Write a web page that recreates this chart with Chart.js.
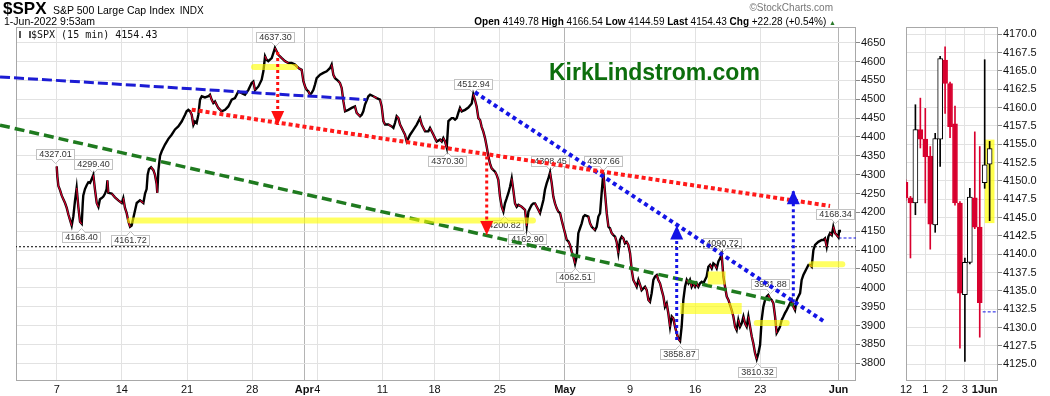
<!DOCTYPE html>
<html><head><meta charset="utf-8">
<script src="https://cdn.jsdelivr.net/npm/chart.js@4.4.1/dist/chart.umd.min.js"></script>
<style>
html,body{margin:0;padding:0;background:#fff;}
#wrap{position:relative;width:1050px;height:396px;overflow:hidden;font-family:'Liberation Sans',Arial,sans-serif;}
#main{position:absolute;left:0;top:0;}
#side{position:absolute;left:900px;top:0;}
.t{position:absolute;white-space:nowrap;color:#000;}
</style></head><body>
<div id="wrap">
<canvas id="main" width="900" height="396"></canvas>
<canvas id="side" width="150" height="396"></canvas>
<div class="t" style="left:3px;top:-1px;font-size:17px;font-weight:bold;line-height:19px;">$SPX</div>
<div class="t" style="left:53px;top:4px;font-size:10.5px;line-height:13px;">S&amp;P 500 Large Cap Index <span style="font-size:10px;margin-left:2px;">INDX</span></div>
<div class="t" style="left:4px;top:15px;font-size:10.5px;line-height:13px;">1-Jun-2022 9:53am</div>
<div class="t" style="right:217px;top:2px;font-size:10px;line-height:12px;color:#777;">©StockCharts.com</div>
<div class="t" style="right:214px;top:15px;font-size:10px;line-height:13px;"><b>Open</b> 4149.78 <b>High</b> 4166.54 <b>Low</b> 4144.59 <b>Last</b> 4154.43 <b>Chg</b> +22.28 (+0.54%) <span style="color:#2a7a2a;font-size:7px;">▲</span></div>
<div class="t" style="left:31px;top:29px;font-size:10px;line-height:12px;font-family:'DejaVu Sans Mono',monospace;color:#111;">$SPX (15 min) 4154.43</div>
<div class="t" style="left:19px;top:31px;width:8px;height:7px;border-left:2px solid #555;border-right:2px solid #555;"></div>
<div class="t" style="left:549px;top:59px;font-size:23px;line-height:26px;font-weight:bold;color:#0c6e0c;">KirkLindstrom.com</div>
</div>
<script>
// ---------- main chart data (x = trading day index, 0 = 7-Mar-2022 open) ----------
const xTickVals   = [0, 5, 10, 15, 19, 20, 25, 29, 34, 39, 44, 49, 54, 60];
const xTickLabels = ['7','14','21','28','Apr','4','11','18','25','May','9','16','23','Jun'];
const monthTicks  = [19, 39, 60];
const yTickVals   = [3800,3850,3900,3950,4000,4050,4100,4150,4200,4250,4300,4350,4400,4450,4500,4550,4600,4650];

const priceX = [0.00,0.05,0.13,0.25,0.38,0.51,0.64,0.77,0.89,1.02,1.15,1.28,1.40,1.53,1.66,1.79,1.92,2.00,2.04,2.17,2.30,2.43,2.56,2.68,2.81,2.94,3.07,3.20,3.32,3.45,3.58,3.71,3.83,3.89,3.96,4.22,4.47,4.73,4.99,5.11,5.24,5.37,5.50,5.63,5.75,5.88,6.01,6.14,6.39,6.65,6.78,6.90,6.98,7.08,7.24,7.42,7.54,7.67,7.72,7.80,7.93,8.06,8.31,8.57,8.82,9.08,9.33,9.59,9.85,9.97,10.10,10.23,10.36,10.49,10.61,10.74,10.87,11.00,11.13,11.38,11.64,11.76,11.89,12.02,12.15,12.28,12.40,12.66,12.92,13.17,13.43,13.68,13.94,14.20,14.45,14.71,14.96,15.09,
15.22,15.48,15.73,15.86,15.99,16.11,16.24,16.37,16.50,16.63,16.75,17.01,17.27,17.52,17.78,18.03,18.29,18.55,18.80,18.93,19.06,19.18,19.31,19.44,19.57,19.70,19.82,19.95,20.21,20.46,20.72,20.98,21.10,21.23,21.36,21.49,21.62,21.74,21.87,22.00,22.13,22.38,22.64,22.89,23.02,23.28,23.41,23.53,23.66,23.92,24.05,24.30,24.56,24.81,24.94,25.07,25.20,25.45,25.71,25.84,25.96,26.09,26.22,26.35,26.48,26.60,26.73,26.86,26.99,27.12,27.37,27.63,27.88,28.01,28.14,28.27,28.52,28.65,28.91,29.03,29.16,29.42,29.55,29.67,29.80,29.93,30.06,30.18,30.31,30.44,30.57,30.70,30.82,30.95,31.08,31.34,31.59,
31.85,31.97,32.10,32.23,32.36,32.49,32.61,32.74,32.87,33.00,33.13,33.25,33.38,33.51,33.64,33.77,33.89,34.02,34.15,34.28,34.40,34.53,34.66,34.79,34.92,35.04,35.17,35.30,35.43,35.68,35.94,36.07,36.20,36.32,36.45,36.58,36.71,36.84,36.96,37.09,37.22,37.35,37.47,37.60,37.73,37.86,37.99,38.11,38.24,38.37,38.50,38.63,38.75,38.88,39.01,39.14,39.27,39.39,39.52,39.65,39.78,39.91,40.03,40.16,40.29,40.42,40.54,40.80,40.93,41.06,41.18,41.31,41.44,41.57,41.70,41.82,41.95,42.08,42.21,42.34,42.46,42.59,42.72,42.85,42.97,43.10,43.23,43.36,43.49,43.61,43.74,43.87,44.00,44.13,44.25,44.38,44.51,44.64,44.77,44.89,45.15,45.28,45.41,45.53,45.66,45.79,45.92,46.05,46.17,46.30,46.43,46.56,46.68,46.81,46.94,47.07,47.20,47.32,47.45,47.58,47.71,
47.84,47.96,48.09,48.22,48.35,48.48,48.60,48.73,48.86,48.99,49.11,49.24,49.37,49.50,49.63,49.75,49.88,50.01,50.14,50.27,50.39,50.52,50.65,50.78,50.91,51.03,51.16,51.29,51.42,51.55,51.67,51.80,51.93,52.06,52.18,52.31,52.44,52.57,52.70,52.82,52.95,53.08,53.21,53.34,53.46,53.59,53.72,53.85,53.98,54.10,54.23,54.36,54.49,54.61,54.74,54.87,55.00,55.13,55.25,55.38,55.51,55.64,55.77,55.89,56.02,56.15,56.28,56.41,56.53,56.66,56.79,56.92,57.05,57.17,57.30,57.43,57.56,57.69,57.81,57.94,58.07,58.20,58.32,58.45,58.71,58.84,58.96,59.09,59.22,59.35,59.48,59.60,59.73,59.86,59.99,60.04,60.10];
const priceY = [4322,4295,4270,4260,4245,4235,4225,4212,4195,4180,4165,4190,4230,4265,4215,4175,4170,4225,4245,4262,4272,4280,4278,4288,4299,4260,4225,4215,4235,4238,4242,4250,4262,4285,4252,4250,4240,4232,4225,4238,4212,4198,4176,4162,4165,4185,4205,4225,4232,4225,4250,4262,4300,4315,4320,4312,4300,4275,4252,4310,4350,4362,4380,4395,4406,4420,4428,4441,4459,4468,4472,4468,4459,4432,4441,4437,4459,4499,4508,4505,4508,4512,4499,4490,4494,4485,4477,4468,4472,4481,4499,4503,4521,4516,4512,4525,4543,4547,
4524,4534,4552,4574,4614,4605,4601,4605,4609,4623,4636,4618,4609,4601,4596,4596,4592,4583,4578,4548,4534,4525,4521,4512,4517,4525,4539,4556,4565,4570,4574,4583,4592,4565,4556,4552,4548,4543,4530,4495,4468,4472,4477,4481,4464,4455,4459,4468,4486,4508,4512,4508,4503,4499,4481,4442,4433,4433,4428,4424,4437,4455,4450,4433,4424,4415,4406,4388,4397,4406,4419,4433,4450,4433,4424,4415,4415,4424,4406,4397,4388,4393,4388,4397,4388,4372,4442,4446,4450,4450,4446,4450,4464,4477,4468,4472,4478,
4489,4513,4498,4480,4450,4445,4427,4414,4397,4374,4348,4330,4317,4312,4308,4299,4286,4242,4215,4202,4224,4237,4251,4268,4290,4260,4224,4215,4220,4215,4207,4164,4202,4211,4220,4224,4224,4215,4207,4198,4215,4233,4260,4277,4290,4306,4277,4242,4224,4211,4202,4198,4180,4162,4145,4127,4123,4114,4096,4083,4064,4083,4145,4158,4171,4189,4193,4189,4171,4162,4158,4153,4162,4189,4198,4251,4306,4251,4198,4162,4158,4145,4140,4136,4122,4092,4127,4136,4131,4118,4122,4114,4092,4047,4021,4012,4003,4021,4008,3994,4003,3994,3968,3963,3986,4021,4030,4034,4021,4012,3994,3977,3950,3959,3932,3897,3924,3919,3897,3880,3865,
3859,3897,3968,4003,4021,4012,4021,4003,4012,4003,4012,4003,4012,4016,4012,4021,4030,4056,4061,4052,4065,4061,4052,4070,4078,4089,4030,4003,3977,3968,3955,3941,3924,3897,3888,3915,3897,3906,3924,3906,3897,3924,3897,3871,3853,3827,3811,3827,3849,3915,3950,3968,3977,3981,3972,3968,3959,3924,3880,3888,3897,3915,3924,3933,3941,3950,3959,3968,3950,3941,3968,3977,3986,4021,4034,4043,4052,4061,4061,4056,4100,4114,4118,4122,4127,4127,4131,4109,4136,4145,4140,4162,4145,4140,4134,4150,4154];

// trend lines [x, price]
const blueDashLine  = [[-4.35, 4559.3], [23.79, 4498.9]];
const greenDashLine = [[-4.35, 4431.5], [56.53, 3954.6]];
const redDotLine    = [[10.36, 4472.4], [59.35, 4217.1]];
const blueDotLine   = [[32.10, 4518.5], [58.83, 3912.2]];
const refLevel      = 4109;
const prevClose     = 4132.15;

// yellow highlights [x0, x1, price]
const hlBars  = [[15.14, 18.29, 4585.6], [5.63, 36.55, 4178.6], [53.72, 56.02, 3906.9], [57.94, 60.29, 4062.8]];
const hlBoxes = [[49.96, 51.34, 4026.2], [47.84, 52.57, 3945.3]];

// arrows
const arrowX    = [16.96, 33.00, 47.58, 56.53];
const arrowFrom = [4625, 4348, 3862, 3962];
const arrowTo   = [4432, 4140, 4165, 4259];

// value labels
const labelX   = [-0.12, 2.81, 1.85, 5.64, 16.78, 29.93, 31.97, 34.33, 36.07, 37.86, 39.78, 41.90, 47.78, 51.03, 53.72, 54.74, 59.73];
const labelY   = [4327.01, 4299.40, 4168.40, 4161.72, 4637.30, 4370.30, 4512.94, 4200.82, 4162.90, 4308.45, 4062.51, 4307.66, 3858.87, 4090.72, 3810.32, 3981.88, 4168.34];
const labelPos = ['a','a','b','b','a','b','a','b','b','a','b','a','b','a','b','a','a'];

// ---------- side chart (15-min candles, 31-May 12:00 .. 1-Jun 9:45) ----------
const sideSlot  = [0,1,2,3,4,5,6,7,8,9,10,11,12,13,14,15,16,17];
const sideOpen  = [4149.8,4147.7,4147.0,4157.0,4155.7,4153.4,4144.0,4155.7,4166.5,4163.3,4157.8,4147.0,4134.5,4138.9,4147.7,4143.7,4149.78,4152.3];
const sideHigh  = [4150.2,4147.9,4160.4,4161.3,4159.9,4154.7,4156.5,4167.0,4168.3,4163.5,4160.2,4147.2,4139.5,4149.0,4156.7,4154.7,4166.54,4155.4];
const sideLow   = [4147.3,4139.5,4145.4,4154.5,4147.0,4140.7,4143.0,4152.0,4159.2,4155.9,4146.7,4127.2,4125.4,4138.7,4143.5,4128.7,4149.0,4144.59];
const sideClose = [4147.7,4147.0,4157.0,4155.7,4153.3,4144.1,4155.8,4166.7,4163.3,4157.4,4147.0,4134.7,4138.9,4147.8,4143.7,4133.4,4152.2,4154.43];
const sideTickVals   = [0.1, 4, 8, 12, 16];
const sideTickLabels = ['12','1','2','3','1Jun'];
const sideYTicks = [4125,4127.5,4130,4132.5,4135,4137.5,4140,4142.5,4145,4147.5,4150,4152.5,4155,4157.5,4160,4162.5,4165,4167.5,4170];
const sideHighlightSlot = 17;
const sideHighlightRange = [4144.3, 4155.6];

// ---------- styles ----------
const RED = '#d8002e';
const AXIS_FONT = "'Liberation Sans Narrow','Liberation Sans',Arial,sans-serif";
const pts = arr => arr.map(p => ({x: p[0], y: p[1]}));
const noPadX = s => { s.paddingLeft = 0; s.paddingRight = 0; };
const noPadY = s => { s.paddingTop = 0; s.paddingBottom = 0; };

const frame = {
  id: 'frame',
  beforeDatasetsDraw(chart) {
    const {ctx, chartArea: a} = chart;
    ctx.save(); ctx.strokeStyle = '#a8a8a8'; ctx.lineWidth = 1;
    ctx.strokeRect(a.left + 0.5, a.top + 0.5, a.right - a.left - 1, a.bottom - a.top);
    ctx.restore();
  }
};

const valueLabels = {
  id: 'valueLabels',
  beforeDatasetsDraw(chart) {
    const {ctx, scales: {x, y}} = chart;
    ctx.save();
    ctx.font = "9px 'Liberation Sans',Arial,sans-serif";
    ctx.lineWidth = 1;
    labelX.forEach((lx, i) => {
      const text = labelY[i].toFixed(2);
      const px = x.getPixelForValue(lx), py = y.getPixelForValue(labelY[i]);
      const above = labelPos[i] === 'a';
      const w = Math.round(ctx.measureText(text).width + 5), h = 10;
      const left = Math.round(px - w / 2) + 0.5;
      const top = (above ? Math.round(py - 5.5 - h) : Math.round(py + 8)) + 0.5;
      ctx.fillStyle = '#fff'; ctx.fillRect(left, top, w, h);
      ctx.strokeStyle = '#c2c2c2'; ctx.strokeRect(left, top, w, h);
      const edge = above ? top + h : top, d = above ? 1 : -1, cx = Math.round(px) + 0.5;
      ctx.fillStyle = '#fff';
      ctx.beginPath(); ctx.moveTo(cx - 4, edge - d); ctx.lineTo(cx, edge + d * 4); ctx.lineTo(cx + 4, edge - d); ctx.closePath(); ctx.fill();
      ctx.beginPath(); ctx.moveTo(cx - 4, edge); ctx.lineTo(cx, edge + d * 4); ctx.lineTo(cx + 4, edge); ctx.stroke();
      ctx.fillStyle = '#333'; ctx.textAlign = 'center'; ctx.textBaseline = 'middle';
      ctx.fillText(text, left + w / 2, top + h / 2 + 0.5);
    });
    ctx.restore();
  }
};

const arrowHeads = {
  id: 'arrowHeads',
  afterDatasetsDraw(chart) {
    const {ctx, scales: {x, y}} = chart;
    ctx.save();
    arrowX.forEach((ax, i) => {
      const px = x.getPixelForValue(ax), tip = y.getPixelForValue(arrowTo[i]), from = y.getPixelForValue(arrowFrom[i]);
      const d = tip < from ? 1 : -1;
      ctx.fillStyle = i < 2 ? '#ff1010' : '#1414e6';
      ctx.beginPath(); ctx.moveTo(px, tip); ctx.lineTo(px - 6.5, tip + d * 14); ctx.lineTo(px + 6.5, tip + d * 14); ctx.closePath(); ctx.fill();
    });
    ctx.restore();
  }
};

const priceData = priceX.map((px, i) => ({x: px, y: priceY[i]}));
const datasets = [];
arrowX.forEach((ax, i) => datasets.push({
  data: [{x: ax, y: arrowFrom[i]}, {x: ax, y: arrowTo[i]}],
  borderColor: i < 2 ? '#ff1010' : '#1414e6', borderWidth: 3, borderDash: [3, 3], pointRadius: 0, order: 1
}));
hlBars.forEach(b => datasets.push({
  data: [{x: b[0], y: b[2]}, {x: b[1], y: b[2]}],
  borderColor: 'rgba(255,255,0,0.62)', borderWidth: 6, borderCapStyle: 'round', pointRadius: 0, order: 2
}));
hlBoxes.forEach((b, i) => datasets.push({
  data: [{x: b[0], y: b[2]}, {x: b[1], y: b[2]}],
  borderColor: 'rgba(255,255,0,0.62)', borderWidth: i === 0 ? 13 : 11, borderCapStyle: 'butt', pointRadius: 0, order: 2
}));
datasets.push({data: pts(blueDashLine), borderColor: '#1c1cd4', borderWidth: 3, borderDash: [10, 4], pointRadius: 0, clip: false, order: 3});
datasets.push({data: pts(greenDashLine), borderColor: '#1f7a1f', borderWidth: 3.5, borderDash: [10, 5], pointRadius: 0, clip: false, order: 3});
datasets.push({data: pts(redDotLine), borderColor: '#ff1a1a', borderWidth: 4, borderDash: [4, 3], pointRadius: 0, clip: false, order: 3});
datasets.push({data: pts(blueDotLine), borderColor: '#1414e6', borderWidth: 4, borderDash: [4, 3.5], pointRadius: 0, clip: false, order: 3});
// red accent on falling segments (drawn over the black price line)
datasets.push({
  data: priceData, borderWidth: 1.2, pointRadius: 0, tension: 0, order: 3.5,
  borderColor: 'rgba(0,0,0,0)',
  segment: {borderColor: c => c.p1.parsed.y < c.p0.parsed.y - 4 ? RED : 'rgba(0,0,0,0)'}
});
datasets.push({data: priceData, borderColor: '#000', borderWidth: 2.4, pointRadius: 0, tension: 0, order: 4});
datasets.push({data: [{x: -3.2, y: refLevel}, {x: 61.5, y: refLevel}], borderColor: '#000', borderWidth: 1, borderDash: [2, 2], pointRadius: 0, order: 5});
datasets.push({data: [{x: 60, y: prevClose}, {x: 61.5, y: prevClose}], borderColor: '#1414e6', borderWidth: 1, borderDash: [3, 2], pointRadius: 0, order: 5});

new Chart(document.getElementById('main'), {
  type: 'line',
  data: {datasets},
  options: {
    responsive: false, animation: false,
    layout: {padding: {left: 16, top: 27, right: 0, bottom: 0}},
    plugins: {legend: {display: false}, tooltip: {enabled: false}},
    scales: {
      x: {
        type: 'linear', min: -3.124, max: 61.34,
        afterBuildTicks: s => { s.ticks = xTickVals.map(v => ({value: v})); },
        afterFit: s => { s.height = 16; noPadX(s); },
        ticks: {
          autoSkip: false, maxRotation: 0, padding: 3, color: '#111',
          callback: v => xTickLabels[xTickVals.indexOf(v)],
          font: c => ({family: AXIS_FONT, size: 11, weight: (c.tick && monthTicks.includes(c.tick.value)) ? 'bold' : 'normal'})
        },
        grid: {drawTicks: false, color: c => (c.tick && monthTicks.includes(c.tick.value)) ? '#b4b4b4' : '#e2e2e2'},
        border: {display: false}
      },
      y: {
        type: 'linear', position: 'right', min: 3755.7, max: 4691.6,
        afterBuildTicks: s => { s.ticks = yTickVals.map(v => ({value: v})); },
        afterFit: s => { s.width = 44; noPadY(s); },
        ticks: {padding: 1, color: '#111', font: {family: AXIS_FONT, size: 11}, callback: v => String(v)},
        grid: {color: '#e2e2e2', drawTicks: true, tickLength: 4, tickColor: '#888'},
        border: {display: false}
      }
    }
  },
  plugins: [frame, valueLabels, arrowHeads]
});

// ---------- side chart ----------
const bodies = sideSlot.map((s, i) => ({x: s, y: [sideOpen[i], sideClose[i]]}));
const wicks  = sideSlot.map((s, i) => ({x: s, y: [sideLow[i], sideHigh[i]]}));
const isUp = i => sideClose[i] >= sideOpen[i];

new Chart(document.getElementById('side'), {
  type: 'bar',
  data: {datasets: [
    {type: 'bar', data: bodies, grouped: false, barThickness: 5, borderWidth: 1, borderSkipped: false,
     backgroundColor: sideSlot.map((s, i) => isUp(i) ? '#fff' : RED),
     borderColor: sideSlot.map((s, i) => isUp(i) ? '#000' : RED), order: 0},
    {type: 'bar', data: wicks, grouped: false, barThickness: 1,
     backgroundColor: sideSlot.map((s, i) => isUp(i) ? '#000' : RED), order: 1},
    {type: 'bar', data: [{x: sideHighlightSlot, y: sideHighlightRange}], grouped: false, barThickness: 9,
     backgroundColor: 'rgba(255,255,0,0.7)', order: 2},
    {type: 'line', data: [{x: 15.6, y: prevClose}, {x: 18.8, y: prevClose}], borderColor: '#1414e6', borderWidth: 1, borderDash: [3, 2], pointRadius: 0, order: 3}
  ]},
  options: {
    responsive: false, animation: false,
    layout: {padding: {left: 6, top: 27, right: 0, bottom: 0}},
    plugins: {legend: {display: false}, tooltip: {enabled: false}},
    scales: {
      x: {
        type: 'linear', min: 0.1, max: 18.69, offset: false,
        afterBuildTicks: s => { s.ticks = sideTickVals.map(v => ({value: v})); },
        afterFit: s => { s.height = 16; noPadX(s); },
        ticks: {autoSkip: false, maxRotation: 0, padding: 3, color: '#111',
          callback: v => sideTickLabels[sideTickVals.indexOf(v)],
          font: c => ({family: AXIS_FONT, size: 11, weight: (c.tick && c.tick.value === 16) ? 'bold' : 'normal'})},
        grid: {drawTicks: false, offset: false, color: '#e2e2e2'},
        border: {display: false}
      },
      y: {
        type: 'linear', position: 'right', min: 4122.86, max: 4171.0,
        afterBuildTicks: s => { s.ticks = sideYTicks.map(v => ({value: v})); },
        afterFit: s => { s.width = 52; noPadY(s); },
        ticks: {padding: 1, color: '#111', font: {family: AXIS_FONT, size: 11}, callback: v => v.toFixed(1)},
        grid: {color: '#e2e2e2', drawTicks: true, tickLength: 4, tickColor: '#888'},
        border: {display: false}
      }
    }
  },
  plugins: [frame]
});
</script>
</body></html>
